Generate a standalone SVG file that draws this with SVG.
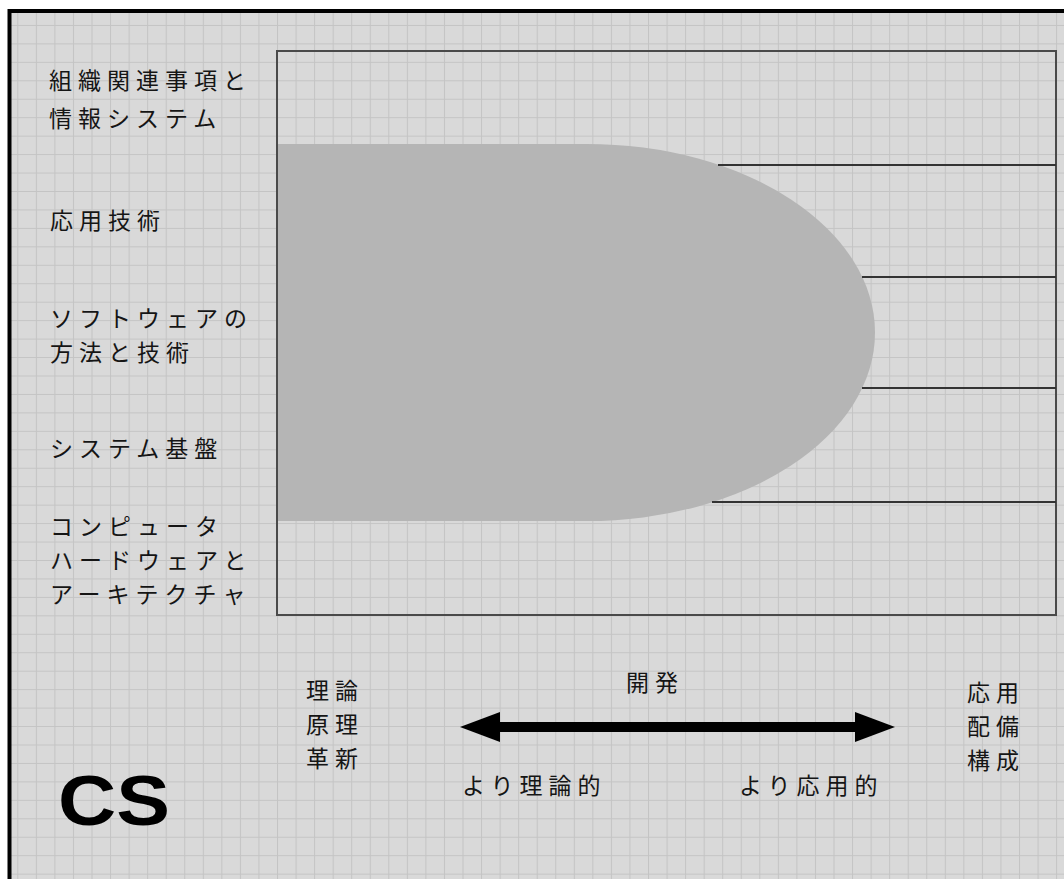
<svg xmlns="http://www.w3.org/2000/svg" width="1064" height="879" viewBox="0 0 1064 879">
  <defs>
    <pattern id="grid" x="17.3" y="6.5" width="18.55" height="18.45" patternUnits="userSpaceOnUse">
      <rect width="18.55" height="18.45" fill="#d9d9d9"/>
      <path d="M0 0 H18.55 M0 0 V18.45" stroke="#c4c4c4" stroke-width="2" fill="none"/>
    </pattern>
    <marker id="head" viewBox="0 0 40 30" refX="2" refY="15" markerWidth="40" markerHeight="30" markerUnits="userSpaceOnUse" orient="auto-start-reverse">
      <path d="M0 0 L40 15 L0 30 Z" fill="#000"/>
    </marker>
  </defs>
  <style>
    .jp { font-family: "Noto Sans CJK JP", "Noto Sans", sans-serif; font-size: 23px; fill: #151515; letter-spacing: 6px; }
    .cs { font-family: "Liberation Sans", Arial, sans-serif; font-weight: bold; font-size: 70px; fill: #000; }
    .rule { stroke: #333; stroke-width: 2; fill: none; }
  </style>

  <rect x="0" y="0" width="1064" height="879" fill="#ffffff"/>
  <rect x="9" y="11" width="1055" height="868" fill="url(#grid)"/>
  <g id="outer-border" stroke="#000" stroke-width="4" fill="none">
    <path d="M9.5 879 V11 H1064"/>
  </g>

  <g id="frame">
    <rect x="277" y="51" width="779" height="564" fill="none" stroke="#4a4a4a" stroke-width="2"/>
  </g>

  <g id="cs-area">
    <path d="M278 144 H587 A288 188.5 0 0 1 587 521 H278 Z" fill="#b5b5b5"/>
  </g>

  <g id="connectors">
    <line class="rule" x1="718" y1="165" x2="1056" y2="165"/>
    <line class="rule" x1="862" y1="277" x2="1056" y2="277"/>
    <line class="rule" x1="862" y1="388" x2="1056" y2="388"/>
    <line class="rule" x1="712" y1="502" x2="1056" y2="502"/>
    <line x1="498" y1="727" x2="857" y2="727" stroke="#000" stroke-width="10" marker-start="url(#head)" marker-end="url(#head)"/>
  </g>

  <g id="label-org">
    <text class="jp"><tspan x="49" y="89">組織関連事項と</tspan><tspan x="49" y="127">情報システム</tspan></text>
  </g>
  <g id="label-app">
    <text class="jp" x="50" y="229">応用技術</text>
  </g>
  <g id="label-sw">
    <text class="jp"><tspan x="50" y="327">ソフトウェアの</tspan><tspan x="50" y="361">方法と技術</tspan></text>
  </g>
  <g id="label-sys">
    <text class="jp" x="50" y="457">システム基盤</text>
  </g>
  <g id="label-hw">
    <text class="jp"><tspan x="50" y="535">コンピュータ</tspan><tspan x="50" y="569">ハードウェアと</tspan><tspan x="50" y="603">アーキテクチャ</tspan></text>
  </g>
  <g id="label-theory">
    <text class="jp"><tspan x="306" y="699">理論</tspan><tspan x="306" y="733">原理</tspan><tspan x="306" y="767">革新</tspan></text>
  </g>
  <g id="label-dev">
    <text class="jp" x="626" y="691">開発</text>
  </g>
  <g id="label-more-theory">
    <text class="jp" x="462" y="794">より理論的</text>
  </g>
  <g id="label-more-applied">
    <text class="jp" x="739" y="794">より応用的</text>
  </g>
  <g id="label-applied">
    <text class="jp"><tspan x="967" y="701">応用</tspan><tspan x="967" y="735">配備</tspan><tspan x="967" y="769">構成</tspan></text>
  </g>
  <g id="label-cs">
    <text class="cs" x="58" y="825" textLength="112" lengthAdjust="spacingAndGlyphs">CS</text>
  </g>
</svg>
